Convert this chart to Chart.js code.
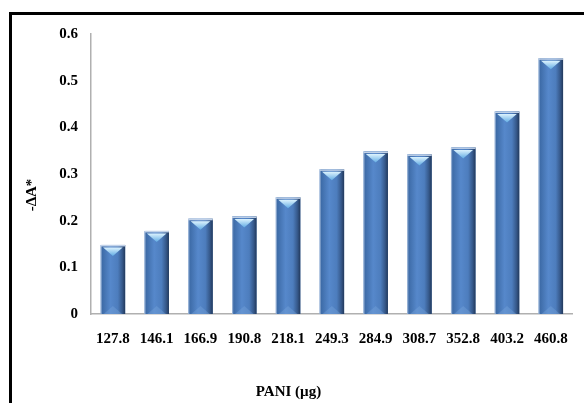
<!DOCTYPE html>
<html>
<head>
<meta charset="utf-8">
<script src="https://cdn.jsdelivr.net/npm/chart.js@4/dist/chart.umd.min.js"></script>
<style>
  html, body { margin: 0; padding: 0; background: #fff; }
  #wrap { position: relative; width: 584px; height: 403px; overflow: hidden; }
  #frame { position: absolute; left: 9px; top: 12px; width: 600px; height: 420px;
           border-left: 3px solid #000; border-top: 3px solid #000; }
  canvas { position: absolute; left: 0; top: 0; }
</style>
</head>
<body>
<div id="wrap">
  <div id="frame"></div>
  <canvas id="c" width="584" height="403"></canvas>
</div>
<script>
// PANI loading (µg) on the x axis
const categories = ['127.8', '146.1', '166.9', '190.8', '218.1', '249.3', '284.9', '308.7', '352.8', '403.2', '460.8'];
// Absorbance change, -ΔA*
const deltaA = [0.148, 0.178, 0.204, 0.209, 0.25, 0.31, 0.348, 0.342, 0.357, 0.434, 0.548];
const yTicks = [0, 0.1, 0.2, 0.3, 0.4, 0.5, 0.6];

const serif = '"Liberation Serif", "Times New Roman", serif';

// Glossy bevel overlay for each bar, painted on top of the library's bar elements
const bevelBars = {
  id: 'bevelBars',
  afterDatasetsDraw(chart) {
    const ctx = chart.ctx;
    const meta = chart.getDatasetMeta(0);
    meta.data.forEach(bar => {
      const { x, y, base, width } = bar.getProps(['x', 'y', 'base', 'width'], true);
      const l = x - width / 2, r = x + width / 2;
      ctx.save();
      const g = ctx.createLinearGradient(l, 0, r, 0);
      g.addColorStop(0, '#b4c7e2');
      g.addColorStop(0.07, '#3e6ca8');
      g.addColorStop(0.4, '#5688cb');
      g.addColorStop(0.7, '#4d7dbd');
      g.addColorStop(0.88, '#36598b');
      g.addColorStop(1, '#22395c');
      ctx.fillStyle = g;
      ctx.fillRect(l, y, width, base - y);
      // top edge highlight
      ctx.fillStyle = '#c2d2e8';
      ctx.fillRect(l, y, width, 1.5);
      // top chevron
      const cg = ctx.createLinearGradient(0, y + 2, 0, y + 11);
      cg.addColorStop(0, '#e4f7ff');
      cg.addColorStop(1, '#62ace4');
      ctx.fillStyle = cg;
      ctx.beginPath();
      ctx.moveTo(l + 2.5, y + 2.5);
      ctx.lineTo(r - 2.5, y + 2.5);
      ctx.lineTo(x, y + 11);
      ctx.closePath();
      ctx.fill();
      // bottom bevel
      ctx.fillStyle = 'rgba(120,165,220,0.4)';
      ctx.beginPath();
      ctx.moveTo(l + 3, base);
      ctx.lineTo(r - 3, base);
      ctx.lineTo(x, base - 8);
      ctx.closePath();
      ctx.fill();
      ctx.restore();
    });
  }
};

// Axis titles, set slightly off-centre
const axisTitles = {
  id: 'axisTitles',
  afterDraw(chart) {
    const ctx = chart.ctx;
    const area = chart.chartArea;
    ctx.save();
    ctx.fillStyle = '#000';
    ctx.font = 'bold 15px ' + serif;
    ctx.textAlign = 'center';
    ctx.textBaseline = 'middle';
    ctx.fillText('PANI (µg)', area.left + (area.right - area.left) * 0.41, 392);
    ctx.translate(32, area.top + (area.bottom - area.top) * 0.575);
    ctx.rotate(-Math.PI / 2);
    ctx.fillText('-ΔA*', 0, 0);
    ctx.restore();
  }
};

new Chart(document.getElementById('c'), {
  type: 'bar',
  data: {
    labels: categories,
    datasets: [{
      data: deltaA,
      backgroundColor: '#4f81bd',
      borderWidth: 0,
      categoryPercentage: 1,
      barPercentage: 0.56
    }]
  },
  options: {
    responsive: false,
    animation: false,
    events: [],
    layout: { padding: { left: 0, top: 34, right: 7, bottom: 0 } },
    plugins: { legend: { display: false }, tooltip: { enabled: false } },
    scales: {
      x: {
        grid: { display: false, drawTicks: false },
        border: { display: true, color: '#b0b0b0', width: 1.5 },
        ticks: { color: '#000', font: { family: serif, size: 15, weight: 'bold' }, padding: 16, maxRotation: 0, autoSkip: false },
        afterFit(s) { s.height = 89; }
      },
      y: {
        min: 0,
        max: 0.6,
        afterBuildTicks(s) { s.ticks = yTicks.map(v => ({ value: v })); },
        grid: { display: false, drawTicks: false },
        border: { display: true, color: '#b0b0b0', width: 1.5 },
        ticks: {
          color: '#000',
          font: { family: serif, size: 15, weight: 'bold' },
          padding: 13,
          callback: v => (v === 0 ? '0' : v.toFixed(1))
        },
        afterFit(s) { s.width = 91; }
      }
    }
  },
  plugins: [bevelBars, axisTitles]
});
</script>
</body>
</html>
